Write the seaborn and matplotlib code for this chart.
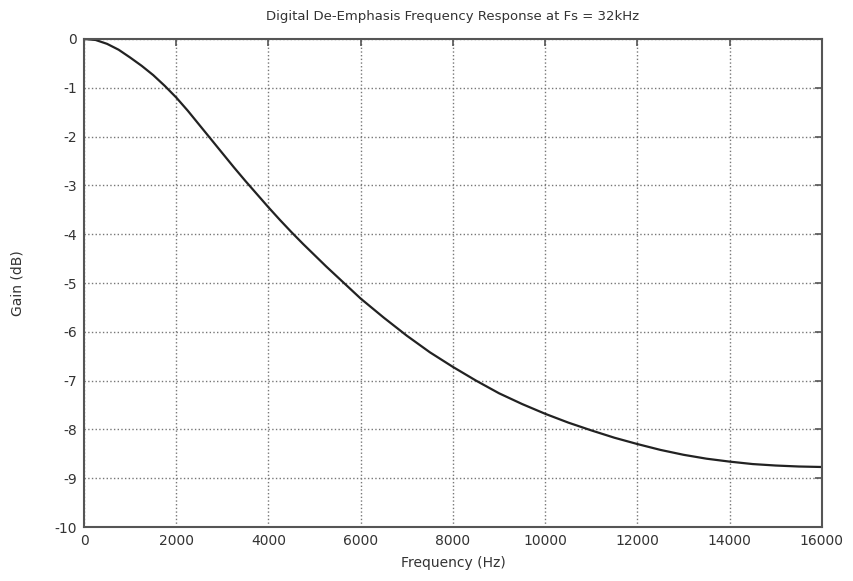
import matplotlib
matplotlib.use('Agg')
import matplotlib.pyplot as plt
import seaborn as sns
import pandas as pd

# values
freq_hz = [0, 250, 500, 750, 1000, 1250, 1500, 1750, 2000, 2250, 2500, 2750, 3000,
           3250, 3500, 3750, 4000, 4250, 4500, 4750, 5000, 5250, 5500, 5750, 6000,
           6500, 7000, 7500, 8000, 8500, 9000, 9500, 10000, 10500, 11000, 11500,
           12000, 12500, 13000, 13500, 14000, 14500, 15000, 15500, 16000]
gain_db = [0.0, -0.02, -0.1, -0.22, -0.38, -0.55, -0.74, -0.96, -1.2, -1.47, -1.76,
           -2.05, -2.34, -2.63, -2.91, -3.18, -3.45, -3.71, -3.96, -4.2, -4.43,
           -4.66, -4.88, -5.1, -5.32, -5.71, -6.08, -6.42, -6.72, -7.0, -7.26,
           -7.48, -7.68, -7.86, -8.02, -8.17, -8.3, -8.42, -8.52, -8.6, -8.66,
           -8.71, -8.74, -8.76, -8.77]
x_ticks = [0, 2000, 4000, 6000, 8000, 10000, 12000, 14000, 16000]
y_ticks = [0, -1, -2, -3, -4, -5, -6, -7, -8, -9, -10]

df = pd.DataFrame({'Frequency': freq_hz, 'Gain': gain_db})

sns.set_style('white')
plt.rcParams['font.family'] = ['DejaVu Sans']
txt = '#333333'

fig = plt.figure(figsize=(8.54, 5.81), dpi=100)
ax = fig.add_axes([0.0984, 0.0929, 0.864, 0.840])
sns.lineplot(data=df, x='Frequency', y='Gain', ax=ax, color='#222222', linewidth=1.6)

ax.set_xlim(0, 16000)
ax.set_ylim(-10, 0)
ax.set_xticks(x_ticks)
ax.set_yticks(y_ticks)
ax.set_xticklabels([str(t) for t in x_ticks])
ax.set_yticklabels([str(t) for t in y_ticks])
ax.grid(True, linestyle=':', color='#777777', linewidth=1.0)
ax.tick_params(direction='in', length=5, width=1.2, colors='#555555',
               labelcolor=txt, labelsize=10, top=True, right=True, pad=5)
for s in ax.spines.values():
    s.set_color('#555555')
    s.set_linewidth(1.5)

ax.set_title('Digital De-Emphasis Frequency Response at Fs = 32kHz', fontsize=9.5, color=txt, pad=14)
ax.set_xlabel('Frequency (Hz)', fontsize=10, color=txt, labelpad=6)
ax.set_ylabel('Gain (dB)', fontsize=10, color=txt, labelpad=22)

fig.savefig('out.png', dpi=100)
